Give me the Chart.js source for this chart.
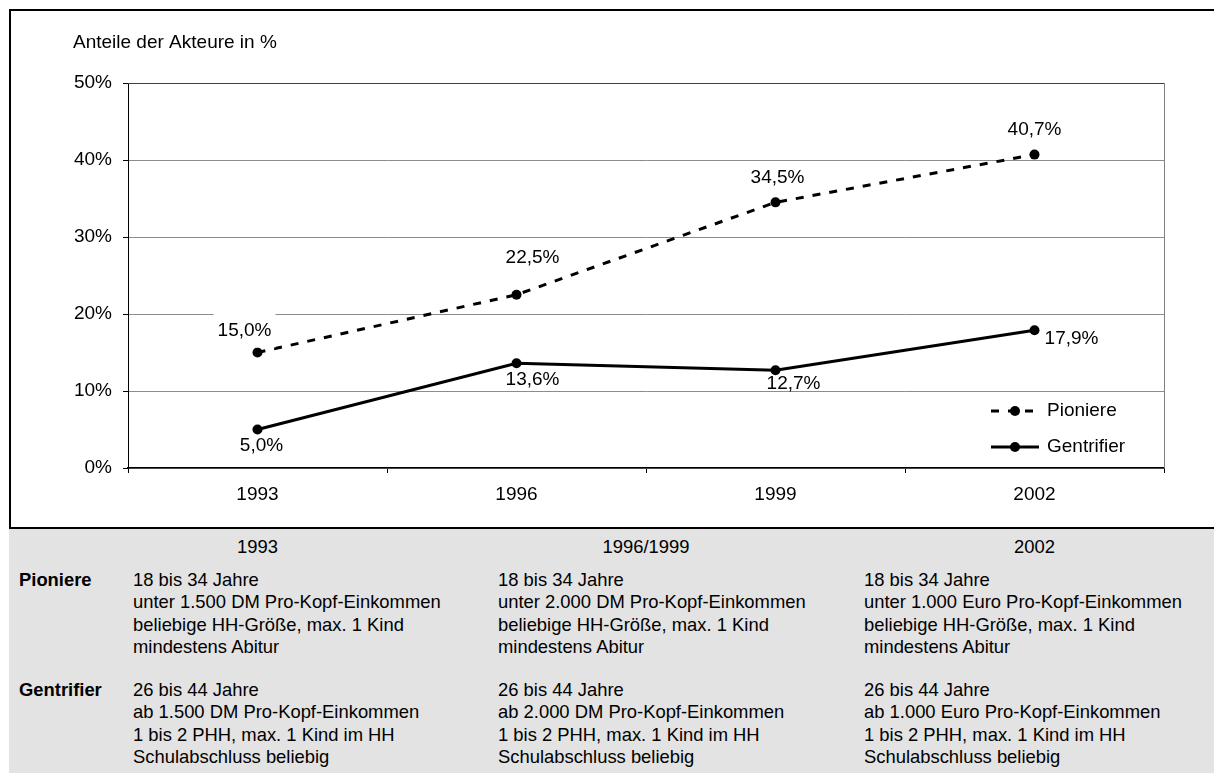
<!DOCTYPE html>
<html>
<head>
<meta charset="utf-8">
<script src="https://cdn.jsdelivr.net/npm/chart.js@4.4.1/dist/chart.umd.min.js"></script>
<style>
  html, body { margin: 0; padding: 0; width: 1214px; height: 773px; overflow: hidden; background: #fff;
    font-family: "Liberation Sans", Arial, sans-serif; }
  #frame { position: absolute; left: 9px; top: 9px; width: 1230px; height: 516px;
    border: 2px solid #000; border-right: none; background: #fff; }
  #c { position: absolute; left: 0; top: 0; }
  #table { position: absolute; left: 9px; top: 529px; width: 1205px; height: 244px; background: #e3e3e3; }
  .cell { position: absolute; font-size: 18.4px; line-height: 22.5px; color: #000; white-space: nowrap; }
  .head { transform: translateX(-50%); }
  .rowlabel { font-weight: bold; }
</style>
</head>
<body>
<div id="frame"></div>
<canvas id="c" width="1214" height="528"></canvas>
<div id="table"></div>
<script>
// Survey years and shares of each group (percent)
const years = ['1993', '1996', '1999', '2002'];
const pioniere = [15.0, 22.5, 34.5, 40.7];
const gentrifier = [5.0, 13.6, 12.7, 17.9];
const yTickValues = [0, 10, 20, 30, 40, 50];
const seriesNames = ['Pioniere', 'Gentrifier'];

// Definitions of the groups per survey period
const periods = ['1993', '1996/1999', '2002'];
const pioniereCriteria = [
  ['18 bis 34 Jahre', 'unter 1.500 DM Pro-Kopf-Einkommen', 'beliebige HH-Größe, max. 1 Kind', 'mindestens Abitur'],
  ['18 bis 34 Jahre', 'unter 2.000 DM Pro-Kopf-Einkommen', 'beliebige HH-Größe, max. 1 Kind', 'mindestens Abitur'],
  ['18 bis 34 Jahre', 'unter 1.000 Euro Pro-Kopf-Einkommen', 'beliebige HH-Größe, max. 1 Kind', 'mindestens Abitur']
];
const gentrifierCriteria = [
  ['26 bis 44 Jahre', 'ab 1.500 DM Pro-Kopf-Einkommen', '1 bis 2 PHH, max. 1 Kind im HH', 'Schulabschluss beliebig'],
  ['26 bis 44 Jahre', 'ab 2.000 DM Pro-Kopf-Einkommen', '1 bis 2 PHH, max. 1 Kind im HH', 'Schulabschluss beliebig'],
  ['26 bis 44 Jahre', 'ab 1.000 Euro Pro-Kopf-Einkommen', '1 bis 2 PHH, max. 1 Kind im HH', 'Schulabschluss beliebig']
];

const FONT = '"Liberation Sans", Arial, sans-serif';

// Placement of the value labels relative to their point (dx, dy)
const labelOffsets = [
  [[-13, -22], [16, -37], [2, -25], [0, -25]],
  [[4, 16], [16, 16], [18, 14], [37, 9]]
];
const labelFill = [
  [true, false, false, false],
  [false, false, false, false]
];

const fmt = v => v.toFixed(1).replace('.', ',') + '%';

// Plot frame: grey right edge, dark top edge
const framePlugin = {
  id: 'frame',
  beforeDatasetsDraw(chart) {
    const { ctx, chartArea: a } = chart;
    ctx.save();
    ctx.strokeStyle = '#808080';
    ctx.lineWidth = 1;
    ctx.beginPath();
    ctx.moveTo(a.right + 0.5, a.top);
    ctx.lineTo(a.right + 0.5, a.bottom);
    ctx.stroke();
    ctx.strokeStyle = '#404040';
    ctx.beginPath();
    ctx.moveTo(a.left, a.top + 0.5);
    ctx.lineTo(a.right, a.top + 0.5);
    ctx.stroke();
    ctx.restore();
  }
};

// Axis caption above the value axis
const captionPlugin = {
  id: 'caption',
  afterDraw(chart) {
    const { ctx, chartArea: a } = chart;
    ctx.save();
    ctx.font = '19px ' + FONT;
    ctx.fillStyle = '#000';
    ctx.textAlign = 'left';
    ctx.textBaseline = 'middle';
    ctx.fillText('Anteile der Akteure in %', a.left - 55, a.top - 40);
    ctx.restore();
  }
};

// Value labels next to each point
const valueLabelPlugin = {
  id: 'valueLabels',
  afterDatasetsDraw(chart) {
    const { ctx } = chart;
    ctx.save();
    ctx.font = '19px ' + FONT;
    ctx.textAlign = 'center';
    ctx.textBaseline = 'middle';
    chart.data.datasets.forEach((ds, di) => {
      const meta = chart.getDatasetMeta(di);
      meta.data.forEach((pt, i) => {
        const txt = fmt(ds.data[i]);
        const x = pt.x + labelOffsets[di][i][0];
        const y = pt.y + labelOffsets[di][i][1];
        if (labelFill[di][i]) {
          const w = ctx.measureText(txt).width + 8;
          ctx.fillStyle = '#fff';
          ctx.fillRect(x - w / 2, y - 17, w, 34);
        }
        ctx.fillStyle = '#000';
        ctx.fillText(txt, x, y);
      });
    });
    ctx.restore();
  }
};

// Legend inside the lower right corner of the plot
const legendPlugin = {
  id: 'innerLegend',
  afterDatasetsDraw(chart) {
    const { ctx, chartArea: a } = chart;
    ctx.save();
    chart.data.datasets.forEach((ds, di) => {
      const y = a.bottom - 57 + di * 36;
      const x0 = a.right - 173, x1 = a.right - 125;
      ctx.strokeStyle = ds.borderColor;
      ctx.lineWidth = ds.borderWidth;
      ctx.setLineDash(ds.borderDash || []);
      ctx.beginPath();
      ctx.moveTo(x0, y);
      ctx.lineTo(x1, y);
      ctx.stroke();
      ctx.setLineDash([]);
      ctx.fillStyle = ds.pointBackgroundColor;
      ctx.beginPath();
      ctx.arc((x0 + x1) / 2, y, ds.pointRadius, 0, Math.PI * 2);
      ctx.fill();
      ctx.font = '19px ' + FONT;
      ctx.fillStyle = '#000';
      ctx.textAlign = 'left';
      ctx.textBaseline = 'middle';
      ctx.fillText(ds.label, a.right - 117, y);
    });
    ctx.restore();
  }
};

const chart = new Chart(document.getElementById('c'), {
  type: 'line',
  data: {
    labels: years,
    datasets: [
      {
        label: seriesNames[0], data: pioniere,
        borderColor: '#000', borderWidth: 3, borderDash: [8, 9],
        pointRadius: 5, pointBackgroundColor: '#000', pointBorderWidth: 0,
        tension: 0
      },
      {
        label: seriesNames[1], data: gentrifier,
        borderColor: '#000', borderWidth: 3,
        pointRadius: 5, pointBackgroundColor: '#000', pointBorderWidth: 0,
        tension: 0
      }
    ]
  },
  options: {
    responsive: false,
    devicePixelRatio: 1,
    animation: false,
    layout: { padding: { left: 0, right: 50, top: 83, bottom: 0 } },
    plugins: { legend: { display: false }, tooltip: { enabled: false } },
    scales: {
      x: {
        type: 'category',
        offset: true,
        grid: { offset: true, drawOnChartArea: false, drawTicks: true, tickLength: 5, color: '#000' },
        border: { color: '#000', width: 1.5 },
        ticks: { font: { size: 19, family: FONT }, color: '#000', padding: 10, maxRotation: 0 },
        afterFit(s) { s.height = 60; }
      },
      y: {
        min: yTickValues[0],
        max: yTickValues[yTickValues.length - 1],
        afterBuildTicks(s) { s.ticks = yTickValues.map(v => ({ value: v })); },
        grid: { color: '#8c8c8c', lineWidth: 1, tickLength: 5, tickColor: '#000' },
        border: { color: '#000', width: 1 },
        ticks: { font: { size: 19, family: FONT }, color: '#000', padding: 11, callback: v => v + '%' },
        afterFit(s) { s.width = 128; }
      }
    }
  },
  plugins: [framePlugin, captionPlugin, valueLabelPlugin, legendPlugin]
});

// Definitions table below the chart
(function buildTable() {
  const table = document.getElementById('table');
  const top0 = 529;
  const add = (html, left, top, cls) => {
    const d = document.createElement('div');
    d.className = 'cell ' + (cls || '');
    d.style.left = (left - 9) + 'px';
    d.style.top = (top - top0) + 'px';
    d.innerHTML = html;
    table.appendChild(d);
  };
  const xs = chart.scales.x;
  const headCenters = [
    xs.getPixelForValue(0),
    (xs.getPixelForValue(1) + xs.getPixelForValue(2)) / 2,
    xs.getPixelForValue(3)
  ];
  const colLeft = [133, 498, 864];
  periods.forEach((p, i) => add(p, headCenters[i], 547 - 11.25, 'head'));
  add(seriesNames[0], 19, 580 - 11.25, 'rowlabel');
  add(seriesNames[1], 19, 690 - 11.25, 'rowlabel');
  pioniereCriteria.forEach((lines, i) => add(lines.join('<br>'), colLeft[i], 580 - 11.25));
  gentrifierCriteria.forEach((lines, i) => add(lines.join('<br>'), colLeft[i], 690 - 11.25));
})();
</script>
</body>
</html>
